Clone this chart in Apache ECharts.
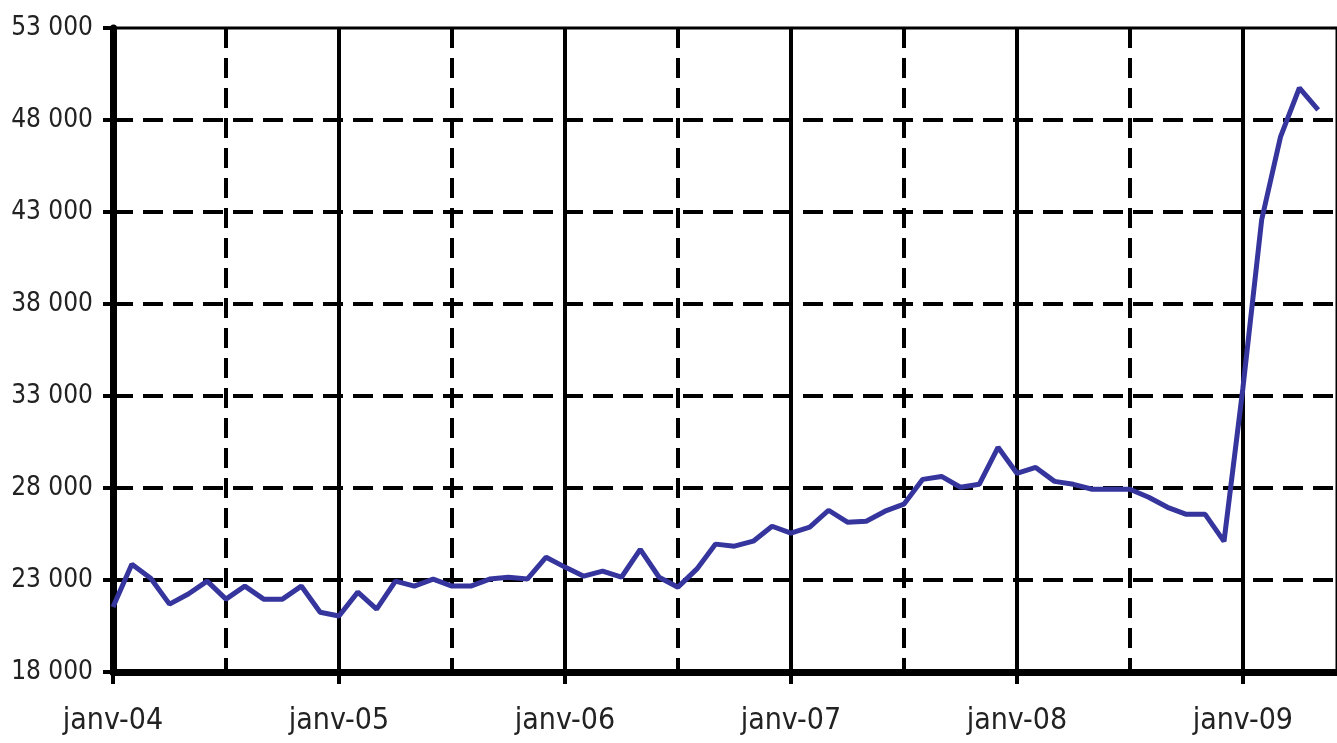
<!DOCTYPE html>
<html>
<head>
<meta charset="utf-8">
<script src="https://cdn.jsdelivr.net/npm/echarts@6/dist/echarts.min.js"></script>
<style>
html,body{margin:0;padding:0;background:#fff;}
#chart{width:1337px;height:743px;}
</style>
</head>
<body>
<div id="chart"></div>
<script>
// Categories: monthly, janv-04 .. juin-09
const monthNames = ['janv','févr','mars','avr','mai','juin','juil','août','sept','oct','nov','déc'];
const years = ['04','05','06','07','08','09'];
const months = [];
years.forEach(function(y){ monthNames.forEach(function(m){ months.push(m + '-' + y); }); });
const categories = months.slice(0, 66);

// Series values
const values2004 = [21530, 23860, 23100, 21690, 22240, 22940, 21960, 22670, 21960, 21960, 22670, 21250];
const values2005 = [21040, 22340, 21420, 22940, 22670, 23050, 22670, 22670, 23050, 23150, 23050, 24240];
const values2006 = [23700, 23210, 23480, 23150, 24670, 23150, 22610, 23590, 24950, 24840, 25110, 25920];
const values2007 = [25550, 25870, 26790, 26140, 26190, 26740, 27120, 28470, 28630, 28040, 28200, 30210];
const values2008 = [28800, 29120, 28360, 28200, 27930, 27930, 27930, 27500, 26950, 26570, 26570, 25100];
const values2009 = [33400, 42580, 47080, 49740, 48550, null];
const values = [].concat(values2004, values2005, values2006, values2007, values2008, values2009);

// Y axis ticks
const yMin = 18000, yMax = 53000, yStep = 5000;

function fmt(v){
  const s = String(Math.round(v));
  return s.replace(/\B(?=(\d{3})+(?!\d))/g, ' ');
}

const FONT = "'Liberation Sans Narrow', 'Arial Narrow', 'DejaVu Sans Condensed', 'Liberation Sans', sans-serif";

const chart = echarts.init(document.getElementById('chart'), null, {renderer:'canvas'});
chart.setOption({
  animation: false,
  backgroundColor: '#fff',
  grid: {left: 113, right: -3, top: 28, bottom: 71, containLabel: false, show: true, borderColor: '#000', borderWidth: 3, backgroundColor: 'transparent'},
  xAxis: [
    {
      type: 'category',
      data: categories,
      boundaryGap: false,
      axisLine: {show: true, lineStyle: {color: '#000', width: 7}},
      axisTick: {show: true, interval: function(i){ return i % 12 === 0; }, length: 12, lineStyle: {color: '#000', width: 4}},
      axisLabel: {
        interval: function(i){ return i % 12 === 0; },
        margin: 34,
        fontFamily: FONT,
        fontSize: 30,
        color: '#222'
      },
      splitLine: {show: true, interval: function(i){ return i % 12 === 0 && i > 0; }, lineStyle: {color: '#000', width: 4, type: 'solid'}},
      z: 3
    },
    {
      type: 'category',
      data: categories,
      boundaryGap: false,
      position: 'bottom',
      axisLine: {show: false},
      axisTick: {show: false},
      axisLabel: {show: false},
      splitLine: {show: true, interval: function(i){ return i % 12 === 6; }, lineStyle: {color: '#000', width: 4, type: [20, 10]}}
    }
  ],
  yAxis: {
    type: 'value',
    min: yMin,
    max: yMax,
    interval: yStep,
    axisLine: {show: true, lineStyle: {color: '#000', width: 7}},
    axisTick: {show: true, length: 10, lineStyle: {color: '#000', width: 4}},
    axisLabel: {
      formatter: fmt,
      margin: 20,
      fontFamily: FONT,
      fontSize: 26,
      color: '#222'
    },
    splitLine: {show: true, showMinLine: false, showMaxLine: false, lineStyle: {color: '#000', width: 4, type: [20, 10]}},
    z: 3
  },
  series: [{
    type: 'line',
    xAxisIndex: 0,
    data: values,
    symbol: 'none',
    lineStyle: {color: '#35359d', width: 5},
    itemStyle: {color: '#35359d'},
    z: 5
  }]
});
</script>
</body>
</html>
